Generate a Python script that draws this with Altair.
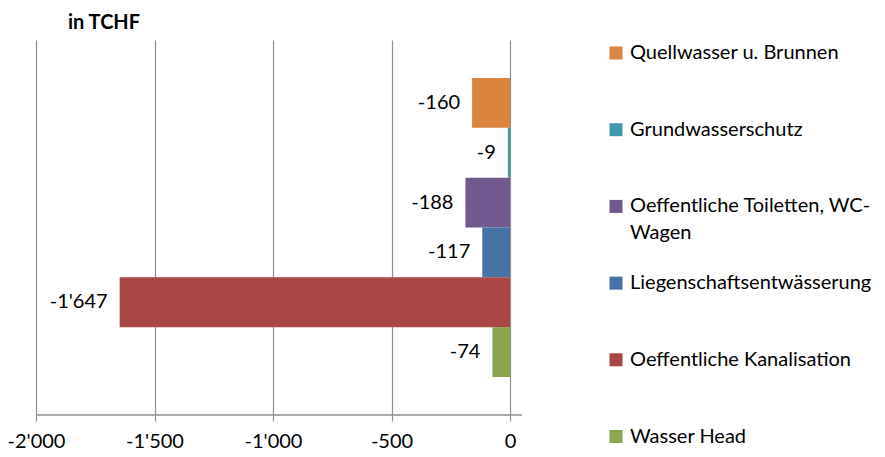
import altair as alt
import pandas as pd

series = [
    "Quellwasser u. Brunnen",
    "Grundwasserschutz",
    "Oeffentliche Toiletten, WC-Wagen",
    "Liegenschaftsentwässerung",
    "Oeffentliche Kanalisation",
    "Wasser Head",
]
values = [-160, -9, -188, -117, -1647, -74]
colors = ["#DB843D", "#4198AF", "#71588F", "#4572A7", "#AA4643", "#89A54E"]
legend_line1 = [
    "Quellwasser u. Brunnen",
    "Grundwasserschutz",
    "Oeffentliche Toiletten, WC-",
    "Liegenschaftsentwässerung",
    "Oeffentliche Kanalisation",
    "Wasser Head",
]
legend_line2 = ["", "", "Wagen", "", "", ""]
x_ticks = [-2000, -1500, -1000, -500, 0]

FONT = "Lato"
W, H = 474, 375
GRID = "#8f8f8f"

df = pd.DataFrame({
    "series": series,
    "value": values,
    "label": [f"{v:,}".replace(",", "'") for v in values],
    "line1": legend_line1,
    "line2": legend_line2,
})

color = alt.Color("series:N", scale=alt.Scale(domain=series, range=colors), legend=None)
ybar = alt.Y("series:N", scale=alt.Scale(type="band", domain=series, paddingInner=0, paddingOuter=0.763), axis=None)
xenc = alt.X(
    "value:Q",
    scale=alt.Scale(domain=[-2000, 0], nice=False, zero=False),
    axis=alt.Axis(
        values=x_ticks,
        grid=True,
        gridColor=GRID,
        gridWidth=1.2,
        domain=False,
        ticks=True,
        tickColor=GRID,
        tickSize=6,
        tickWidth=1.2,
        labelFlush=False,
        labelFont=FONT,
        labelFontSize=20,
        labelColor="#000000",
        labelPadding=10,
        title=None,
        labelExpr="datum.value < 0 ? '-' + replace(format(-datum.value, ','), ',', \"'\") : format(datum.value, ',')",
    ),
)

base = alt.Chart(df)
bars = base.mark_bar().encode(x=xenc, y=ybar, color=color)
bar_text = base.mark_text(align="right", baseline="middle", dx=-12, font=FONT, fontSize=20, color="#000000").encode(
    x=alt.X("value:Q"), y=ybar, text="label:N"
)
axis_line = alt.Chart(pd.DataFrame({"a": [0]})).mark_rule(color=GRID, strokeWidth=1.5).encode(
    x=alt.value(0), x2=alt.value(W + 12), y=alt.value(H)
)
main = alt.layer(bars, bar_text, axis_line)

yleg = alt.Y("series:N", scale=alt.Scale(type="point", domain=series, range=[13, 396.5], padding=0), axis=None)
leg_sq = base.mark_square(size=169, opacity=1, filled=True).encode(x=alt.value(W + 106), y=yleg, color=color)
leg_t1 = base.mark_text(align="left", baseline="middle", font=FONT, fontSize=20, color="#000000").encode(
    x=alt.value(W + 120), y=yleg, text="line1:N"
)
leg_t2 = base.mark_text(align="left", baseline="middle", dy=27, font=FONT, fontSize=20, color="#000000").encode(
    x=alt.value(W + 120), y=yleg, text="line2:N"
)
legend = alt.layer(leg_sq, leg_t1, leg_t2)

chart = alt.layer(main, legend).resolve_scale(y="independent").properties(
    width=W,
    height=H,
    autosize="none",
    padding={"left": 28, "top": 32, "right": 367, "bottom": 45},
    title=alt.TitleParams(
        "in TCHF",
        anchor="start",
        frame="group",
        dx=32,
        dy=21,
        offset=12,
        baseline="alphabetic",
        font=FONT,
        fontSize=20,
        fontWeight="bold",
        color="#000000",
    ),
).configure_view(stroke=None)

chart.save("out.html", embed_options={"renderer": "svg", "actions": False})
